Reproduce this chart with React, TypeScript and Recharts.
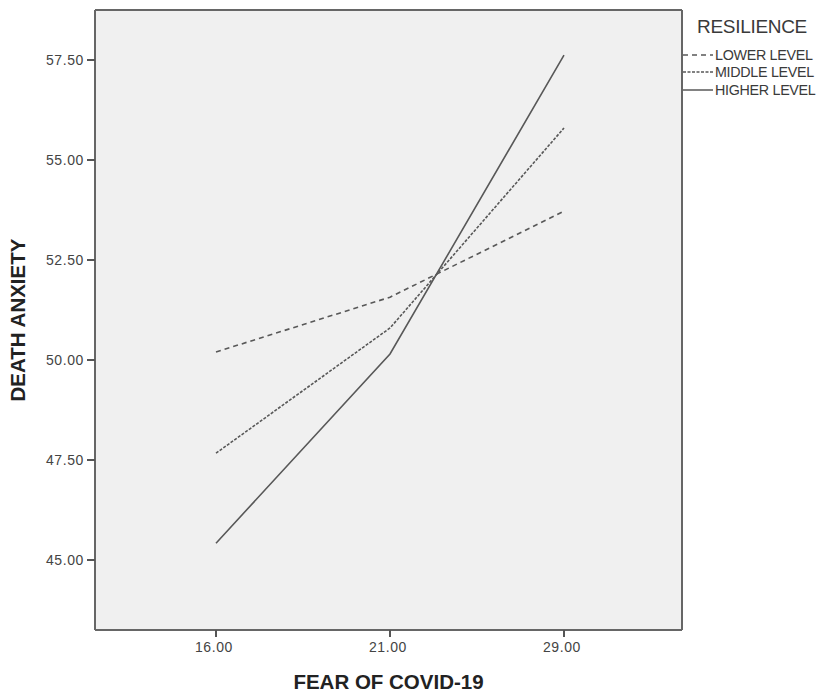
import { CartesianGrid, Line, LineChart, XAxis, YAxis } from "recharts";

const fearLevels = ["16.00", "21.00", "29.00"];
const lowerLevel = [50.2, 51.57, 53.72];
const middleLevel = [47.67, 50.8, 55.8];
const higherLevel = [45.42, 50.15, 57.62];
const yTicks = [45, 47.5, 50, 52.5, 55, 57.5];

const series = [
  { key: "lower", name: "LOWER LEVEL", dash: "5 4" },
  { key: "middle", name: "MIDDLE LEVEL", dash: "3 1.5" },
  { key: "higher", name: "HIGHER LEVEL", dash: undefined as string | undefined },
];

const data = fearLevels.map((f, i) => ({
  fear: f,
  lower: lowerLevel[i],
  middle: middleLevel[i],
  higher: higherLevel[i],
}));

const font = "'Liberation Sans', Arial, sans-serif";
const lineColor = "#585858";
const tickStyle = { fontSize: 14, fill: "#444", fontFamily: font, letterSpacing: 0.6 };

function ResilienceLegend() {
  return (
    <div style={{ position: "absolute", left: 683, top: 16, width: 140, fontFamily: font, color: "#3a3a3a", whiteSpace: "nowrap" }}>
      <div style={{ fontSize: 19, marginLeft: 14, marginBottom: 8, letterSpacing: -0.3 }}>RESILIENCE</div>
      {series.map((s) => (
        <div key={s.key} style={{ display: "flex", alignItems: "center", height: 17.5, fontSize: 14.3, letterSpacing: -0.3 }}>
          <svg width={32} height={6}>
            <line x1={0} y1={3} x2={30} y2={3} stroke={lineColor} strokeWidth={1.5} strokeDasharray={s.dash} />
          </svg>
          <span>{s.name}</span>
        </div>
      ))}
    </div>
  );
}

function XTitle(props: any) {
  const vb = props.viewBox;
  return (
    <text
      x={vb.x + vb.width / 2}
      y={vb.y + vb.height - 5}
      textAnchor="middle"
      style={{ fontSize: 20.5, fontWeight: "bold", fill: "#222", fontFamily: font }}
    >
      FEAR OF COVID-19
    </text>
  );
}

export default function App() {
  return (
    <div style={{ position: "fixed", left: 0, top: 0, width: 823, height: 694, background: "#fff", overflow: "hidden" }}>
      <LineChart width={823} height={694} data={data} margin={{ top: 10, right: 141, left: 15, bottom: 0 }}>
        <CartesianGrid
          fill="#f0f0f0"
          stroke="#666"
          strokeWidth={2}
          horizontalCoordinatesGenerator={(p: any) => [p.offset.top, p.offset.top + p.offset.height]}
          verticalCoordinatesGenerator={(p: any) => [p.offset.left, p.offset.left + p.offset.width]}
        />
        <XAxis
          dataKey="fear"
          padding={{ left: 121, right: 118 }}
          tick={{ ...tickStyle, dy: 3, dx: -2 }}
          tickSize={7}
          tickLine={{ stroke: "#555", strokeWidth: 2 }}
          axisLine={{ stroke: "#666", strokeWidth: 2 }}
          height={64}
          label={<XTitle />}
        />
        <YAxis
          domain={[43.25, 58.75]}
          ticks={yTicks}
          tickFormatter={(v: number) => v.toFixed(2)}
          tick={{ ...tickStyle, dx: -1 }}
          tickSize={8}
          tickLine={{ stroke: "#555", strokeWidth: 2 }}
          axisLine={{ stroke: "#666", strokeWidth: 2 }}
          width={80}
          label={{
            value: "DEATH ANXIETY",
            angle: -90,
            position: "insideLeft",
            offset: 3,
            style: { fontSize: 20.5, fontWeight: "bold", fill: "#222", fontFamily: font, textAnchor: "middle" },
          }}
        />
        {series.map((s) => (
          <Line
            key={s.key}
            dataKey={s.key}
            name={s.name}
            type="linear"
            stroke={lineColor}
            strokeWidth={1.6}
            strokeDasharray={s.dash}
            dot={false}
            activeDot={false}
            isAnimationActive={false}
          />
        ))}
      </LineChart>
      <ResilienceLegend />
    </div>
  );
}
